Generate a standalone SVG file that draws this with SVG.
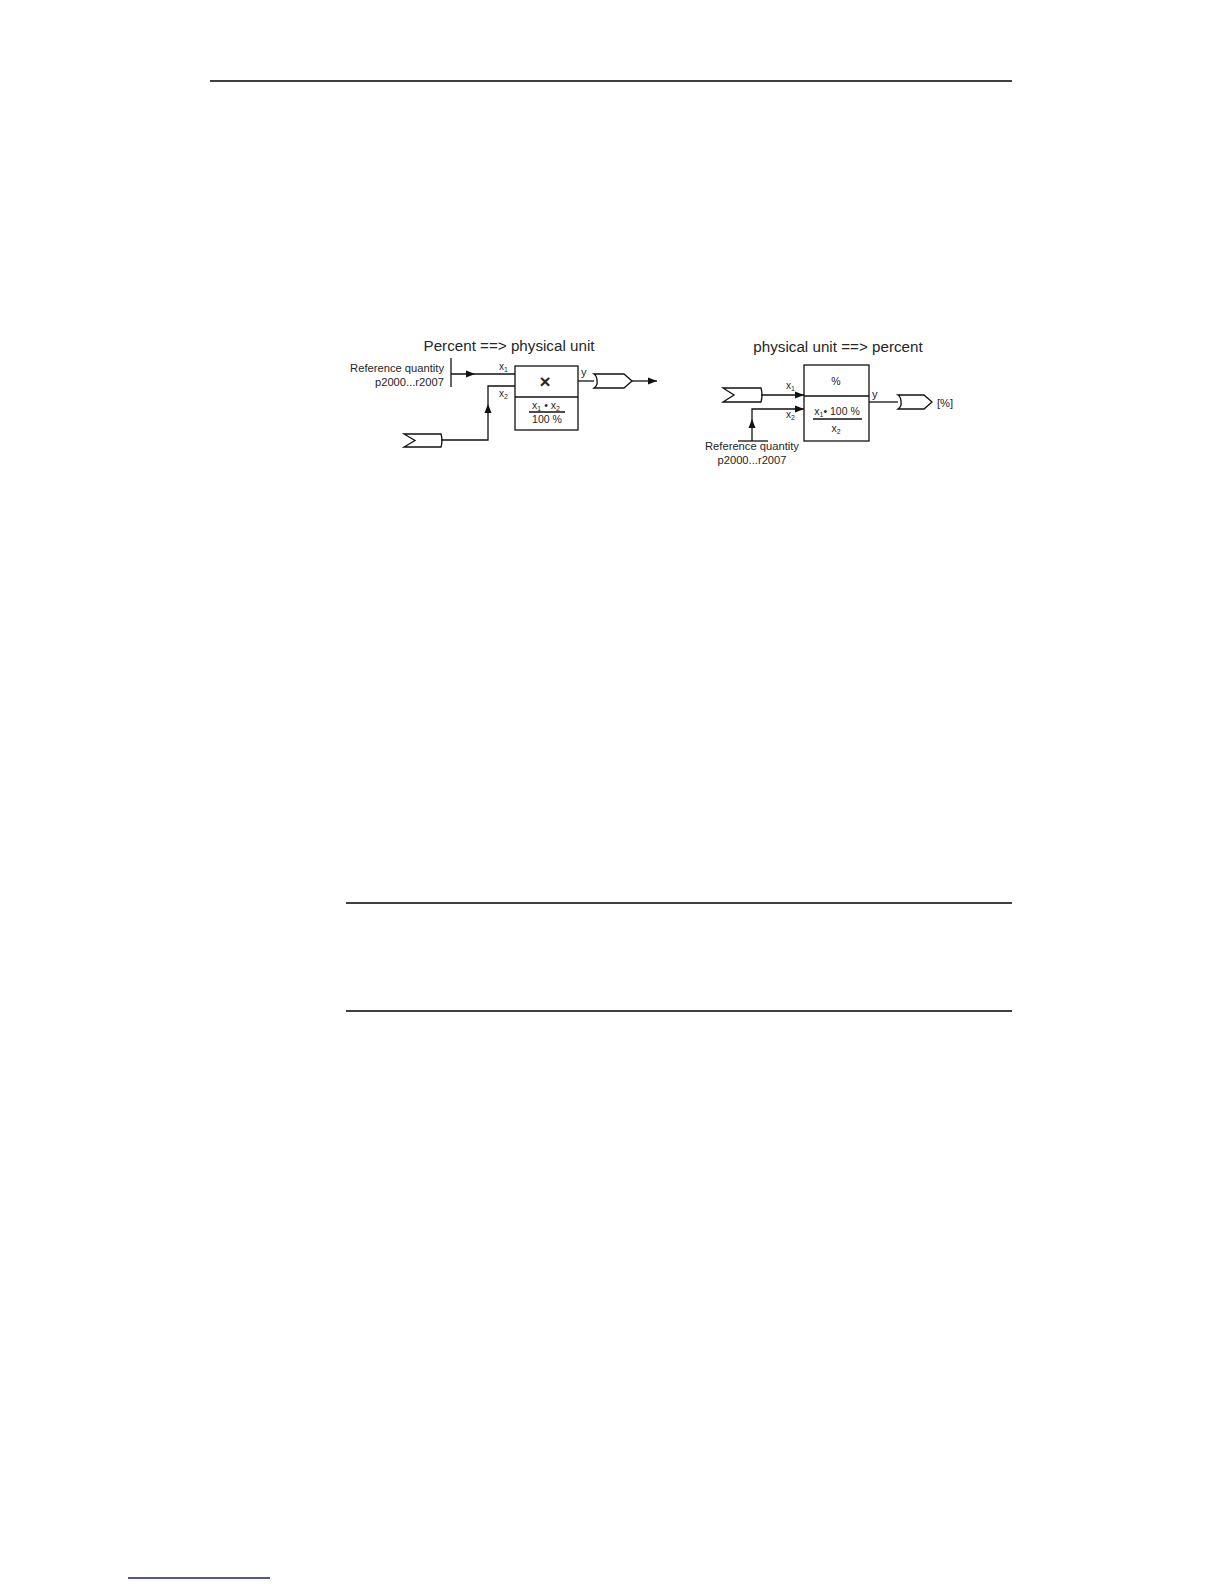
<svg xmlns="http://www.w3.org/2000/svg" width="1224" height="1584" viewBox="0 0 1224 1584">
<style>
text{font-family:"Liberation Sans",Arial,sans-serif;fill:#262626}
.t{font-size:15.2px}
.s{font-size:11.2px}
.f{font-size:10.5px}
.l{font-size:10px}
.ln{stroke:#111;stroke-width:1.3;fill:none}
.bx{stroke:#111;stroke-width:1.3;fill:#fff}
.ah{fill:#111;stroke:none}
</style>
<rect width="1224" height="1584" fill="#fff"/>
<g id="page-lines">
<line x1="210" y1="81" x2="1012" y2="81" stroke="#000" stroke-width="1.5"/>
<line x1="346" y1="903" x2="1012" y2="903" stroke="#000" stroke-width="1.5"/>
<line x1="346" y1="1011" x2="1012" y2="1011" stroke="#000" stroke-width="1.5"/>
<line x1="128" y1="1578" x2="270" y2="1578" stroke="#1a1a8c" stroke-width="1.5"/>
</g>

<text class="t" x="509" y="351" text-anchor="middle">Percent ==&gt; physical unit</text>
<text class="t" x="838" y="352" text-anchor="middle">physical unit ==&gt; percent</text>

<g id="left-ref">
<text class="s" x="444" y="372" text-anchor="end">Reference quantity</text>
<text class="s" x="444" y="386" text-anchor="end">p2000...r2007</text>
<line class="ln" x1="451" y1="358" x2="451" y2="387" stroke-width="1.6"/>
</g>
<g id="left-block">
<rect class="bx" x="515" y="366" width="63" height="64"/>
<line class="ln" x1="515" y1="397" x2="578" y2="397"/>
<text x="545" y="388" text-anchor="middle" font-size="19" font-weight="bold">×</text>
<text class="f" x="546" y="409" text-anchor="middle">x<tspan font-size="7" dy="2">1</tspan><tspan dy="-2"> • x</tspan><tspan font-size="7" dy="2">2</tspan></text>
<line class="ln" x1="529" y1="412" x2="565" y2="412" stroke-width="1"/>
<text class="f" x="547" y="423" text-anchor="middle">100 %</text>
</g>
<g id="left-in">
<path class="ln" d="M404,434 L441,434 Q443,440 441,447 L404,447 L415,440.5 Z"/>
</g>
<g id="left-out">
<path class="ln" d="M594,374 L624,374 L632,381 L624,388 L594,388 Q598,385 597,381 Q597,376 594,374 Z"/>
</g>
<g id="connectors">
<line class="ln" x1="451" y1="374" x2="515" y2="374"/>
<path class="ah" d="M475,374 L466,370.5 L466,377.5 Z"/>
<text class="l" x="499" y="370">x<tspan font-size="7" dy="2">1</tspan></text>
<polyline class="ln" points="515,386 488,386 488,440 441,440"/>
<path class="ah" d="M488,404 L484.5,413 L491.5,413 Z"/>
<text class="l" x="499" y="397">x<tspan font-size="7" dy="2">2</tspan></text>
<line class="ln" x1="578" y1="381" x2="594" y2="381"/>
<text class="s" x="581" y="376">y</text>
<line class="ln" x1="632" y1="381" x2="657" y2="381"/>
<path class="ah" d="M657,381 L648,377.5 L648,384.5 Z"/>

<line class="ln" x1="761" y1="395" x2="804" y2="395"/>
<path class="ah" d="M804,395 L795,391.5 L795,398.5 Z"/>
<text class="l" x="786" y="389">x<tspan font-size="7" dy="2">1</tspan></text>
<polyline class="ln" points="804,409 752,409 752,441"/>
<path class="ah" d="M804,409 L795,405.5 L795,412.5 Z"/>
<path class="ah" d="M752,419 L748.5,428 L755.5,428 Z"/>
<text class="l" x="786" y="418">x<tspan font-size="7" dy="2">2</tspan></text>
<line class="ln" x1="869" y1="402" x2="898" y2="402"/>
<text class="s" x="872" y="398">y</text>
</g>
<g id="right-in">
<path class="ln" d="M723,388 L761,388 Q763,395 761,402 L723,402 L734,395 Z"/>
</g>
<g id="right-block">
<rect class="bx" x="804" y="365" width="65" height="76"/>
<line class="ln" x1="804" y1="396" x2="869" y2="396"/>
<text class="f" x="836" y="385" text-anchor="middle">%</text>
<text class="f" x="837" y="415" text-anchor="middle">x<tspan font-size="7" dy="2">1</tspan><tspan dy="-2">• 100 %</tspan></text>
<line class="ln" x1="813" y1="419" x2="862" y2="419" stroke-width="1"/>
<text class="f" x="836" y="432" text-anchor="middle">x<tspan font-size="7" dy="2">2</tspan></text>
</g>
<g id="right-out">
<path class="ln" d="M898,395 L924,395 L932,402 L924,409 L898,409 Q902,406 901,402 Q901,397 898,395 Z"/>
<text class="s" x="937" y="407">[%]</text>
</g>
<g id="right-ref">
<line class="ln" x1="738" y1="441" x2="768" y2="441" stroke-width="1.6"/>
<text class="s" x="752" y="450" text-anchor="middle">Reference quantity</text>
<text class="s" x="752" y="464" text-anchor="middle">p2000...r2007</text>
</g>
</svg>
